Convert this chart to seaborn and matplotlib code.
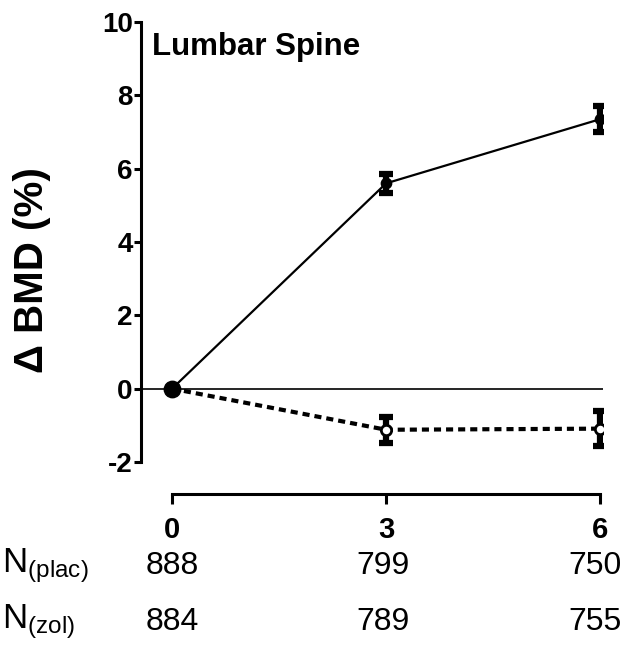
import matplotlib
matplotlib.use("Agg")
import matplotlib.pyplot as plt
import matplotlib.transforms as mtransforms
import seaborn as sns
import pandas as pd
import numpy as np

# ---- data ----
months = [0, 3, 6]
zol_mean = [0.0, 5.6, 7.35]
zol_err = [0.0, 0.25, 0.35]
plac_mean = [0.0, -1.12, -1.09]
plac_err = [0.0, 0.36, 0.48]
n_plac = ["888", "799", "750"]
n_zol = ["884", "789", "755"]
title = "Lumbar Spine"
ylabel = "\u0394 BMD (%)"
yticks = [-2, 0, 2, 4, 6, 8, 10]

sns.set_theme(style="ticks")
plt.rcParams["font.family"] = ["Liberation Sans", "DejaVu Sans"]
plt.rcParams["mathtext.default"] = "regular"
plt.rcParams["text.color"] = "black"
plt.rcParams["axes.labelcolor"] = "black"
plt.rcParams["xtick.color"] = "black"
plt.rcParams["ytick.color"] = "black"
plt.rcParams["axes.edgecolor"] = "black"

df = pd.DataFrame({
    "month": months * 2,
    "bmd": zol_mean + plac_mean,
    "group": ["zol"] * 3 + ["plac"] * 3,
})

fig = plt.figure(figsize=(6.25, 6.55), dpi=100)
ax = fig.add_axes([141 / 625, 161 / 655, 462 / 625, 472 / 655])

# reference line at 0
ax.axhline(0, color="black", lw=1.2, zorder=1)

sns.lineplot(data=df[df.group == "plac"], x="month", y="bmd", ax=ax,
             color="black", lw=3.0, linestyle=(0, (1.7, 1.2)), legend=False, zorder=2)
sns.lineplot(data=df[df.group == "zol"], x="month", y="bmd", ax=ax,
             color="black", lw=1.6, legend=False, zorder=3)

ax.errorbar(months[1:], plac_mean[1:], yerr=plac_err[1:], fmt="none", ecolor="black",
            elinewidth=4.5, capsize=5, capthick=4.5, zorder=4)
ax.errorbar(months[1:], zol_mean[1:], yerr=zol_err[1:], fmt="none", ecolor="black",
            elinewidth=4.5, capsize=5, capthick=4.5, zorder=4)
ax.scatter(months[1:], plac_mean[1:], s=55, facecolor="white", edgecolor="black",
           linewidth=2.0, zorder=5)
ax.scatter(months[1:], zol_mean[1:], s=55, facecolor="black", edgecolor="black", zorder=5)
ax.scatter([months[0]], [zol_mean[0]], s=140, facecolor="black", edgecolor="black", zorder=6)

ax.set_xlim(-0.435, 6.04)
ax.set_ylim(-2.872, 10)
ax.set_xticks(months)
ax.set_xticklabels([str(m) for m in months], fontsize=21, fontweight="bold")
ax.set_yticks(yticks)
ax.set_yticklabels([str(t) for t in yticks], fontsize=20, fontweight="bold")
ax.set_xlabel("")
ax.set_ylabel(ylabel, fontsize=29, fontweight="bold")
ax.yaxis.set_label_coords(-0.195, 0.475)

for s in ["top", "right"]:
    ax.spines[s].set_visible(False)
ax.spines["left"].set_bounds(-2, 10)
ax.spines["bottom"].set_bounds(0, 6)
for s in ["left", "bottom"]:
    ax.spines[s].set_linewidth(2.2)
ax.tick_params(axis="both", width=2.2, length=5, color="black", pad=1)
ax.tick_params(axis="x", length=7, pad=9)

ax.text(0.024, 0.978, title, transform=ax.transAxes, fontsize=22.5, fontweight="bold",
        ha="left", va="top")

trans = mtransforms.blended_transform_factory(ax.transData, fig.transFigure)
y_plac = 1 - 566 / 655
y_zol = 1 - 622 / 655
fig.text(0.004, y_plac, r"N$_{(plac)}$", fontsize=25, ha="left", va="center")
fig.text(0.004, y_zol, r"N$_{(zol)}$", fontsize=25, ha="left", va="center")
has = ["center", "center", "right"]
xs = [0.0, 2.95, 6.3]
for i in range(3):
    ax.text(xs[i], y_plac, n_plac[i], transform=trans, fontsize=23, ha=has[i], va="center")
    ax.text(xs[i], y_zol, n_zol[i], transform=trans, fontsize=23, ha=has[i], va="center")

fig.savefig("out.png", dpi=100)
